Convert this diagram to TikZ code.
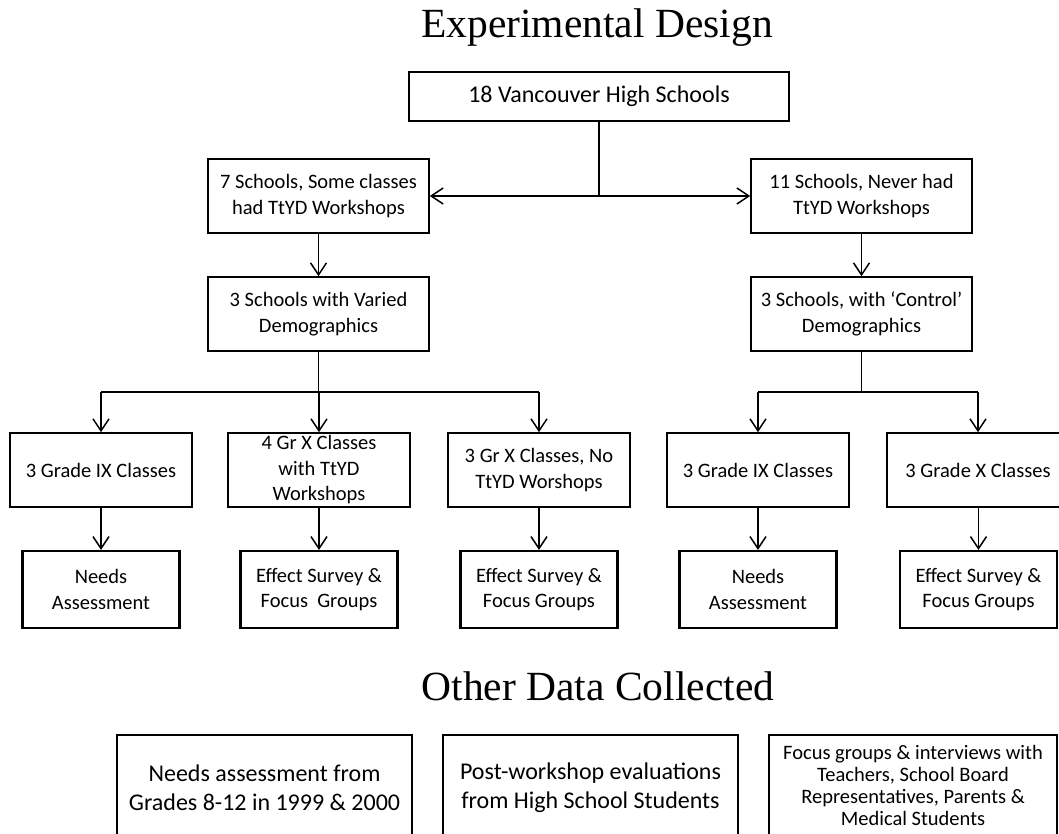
\documentclass[tikz,border=0pt]{standalone}
\usepackage{fontspec}
\setmainfont{Carlito}
\newfontfamily\titlefont{Liberation Serif}
\usetikzlibrary{arrows.meta}
\begin{document}
\begin{tikzpicture}[x=1pt,y=-1pt,
  ttl/.style={anchor=base, inner sep=0pt, font=\titlefont\fontsize{41.5}{48}\selectfont},
  box/.style={draw, line width=1.6pt, inner sep=0pt, align=center,
              font=\fontsize{20.5}{25.5}\selectfont},
  topbox/.style={box, minimum width=380pt, minimum height=49pt, font=\fontsize{24}{29}\selectfont},
  midbox/.style={box, minimum width=221pt, minimum height=74pt},
  clsbox/.style={box, minimum width=182pt, minimum height=74pt},
  resbox/.style={box, line width=2.2pt, minimum width=157pt, minimum height=77pt},
  databox/.style={box, line width=2.5pt, minimum width=295pt, minimum height=106pt},
  conn/.style={line width=1.5pt},
  arr/.style={conn, -{Straight Barb[length=12pt,width=16pt]}}
]
\useasboundingbox (0,0) rectangle (1059,833);
\clip (0,0) rectangle (1059,833);

% titles
\node[ttl] (t1) at (597,37) {Experimental Design};
\node[ttl] (t2) at (598,700) {Other Data Collected};

% tree nodes
\node[topbox] (top) at (599,96.5) {18 Vancouver High Schools};
\node[midbox] (s7)  at (318.5,196) {7 Schools, Some classes\\had TtYD Workshops};
\node[midbox] (s11) at (861.5,196) {11 Schools, Never had\\TtYD Workshops};
\node[midbox] (v3)  at (318.5,314) {3 Schools with Varied\\Demographics};
\node[midbox] (c3)  at (861.5,314) {3 Schools, with ‘Control’\\Demographics};

\node[clsbox] (g1) at (101,470) {3 Grade IX Classes};
\node[clsbox] (g2) at (319,470) {4 Gr X Classes\\with TtYD\\Workshops};
\node[clsbox] (g3) at (539,470) {3 Gr X Classes, No\\TtYD Worshops};
\node[clsbox] (g4) at (758,470) {3 Grade IX Classes};
\node[clsbox] (g5) at (978,470) {3 Grade X Classes};

\node[resbox] (r1) at (101,589.5) {Needs\\Assessment};
\node[resbox] (r2) at (319,589.5) {Effect Survey \&\\Focus\ \ Groups};
\node[resbox] (r3) at (539,589.5) {Effect Survey \&\\Focus Groups};
\node[resbox] (r4) at (758,589.5) {Needs\\Assessment};
\node[resbox] (r5) at (978.5,589.5) {Effect Survey \&\\Focus Groups};

% other data boxes
\node[databox, font=\fontsize{24}{29}\selectfont] (d1) at (264.5,788) {Needs assessment from\\Grades 8-12 in 1999 \& 2000};
\node[databox, font=\fontsize{24}{29}\selectfont] (d2) at (590.5,788) {Post-workshop evaluations\\from High School Students};
\node[databox, minimum width=288pt, font=\fontsize{20.5}{22.3}\selectfont] (d3) at (913,788)
  {\raisebox{4pt}{\begin{tabular}{@{}c@{}}Focus groups \& interviews with\\Teachers, School Board\\Representatives, Parents \&\\Medical Students\end{tabular}}};

% connectors: top level
\coordinate (j1) at (top.south |- s7.east);
\draw[conn] (top.south) -- (j1);
\draw[arr] (j1) -- (s7.east);
\draw[arr] (j1) -- (s11.west);
\draw[arr] (s7.south) -- (v3.north);
\draw[arr] (s11.south) -- (c3.north);

% left branch
\coordinate (jl) at (319,392);
\coordinate (jl1) at (g1.north |- jl);
\coordinate (jl3) at (g3.north |- jl);
\draw[conn] (v3.south) -- (v3.south |- jl);
\draw[conn] (jl1) -- (jl3);
\draw[arr] (jl1) -- (g1.north);
\draw[arr] (jl) -- (g2.north);
\draw[arr] (jl3) -- (g3.north);

% right branch
\coordinate (jr) at (c3.south |- jl);
\coordinate (jr4) at (g4.north |- jl);
\coordinate (jr5) at (g5.north |- jl);
\draw[conn] (c3.south) -- (jr);
\draw[conn] (jr4) -- (jr5);
\draw[arr] (jr4) -- (g4.north);
\draw[arr] (jr5) -- (g5.north);

% class to result
\draw[arr] (g1.south) -- (r1.north);
\draw[arr] (g2.south) -- (r2.north);
\draw[arr] (g3.south) -- (r3.north);
\draw[arr] (g4.south) -- (r4.north);
\draw[arr] (g5.south -| r5.north) -- (r5.north);
\end{tikzpicture}
\end{document}
